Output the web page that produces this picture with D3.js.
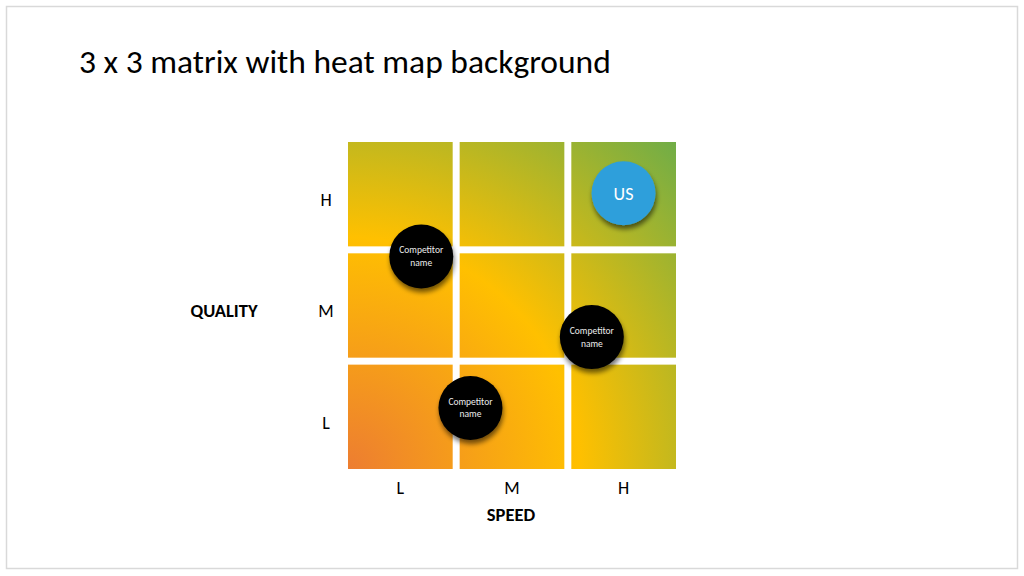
<!DOCTYPE html>
<html><head><meta charset="utf-8">
<script src="https://cdn.jsdelivr.net/npm/d3@7"></script>
<style>
html,body{margin:0;padding:0;background:#fff;}
svg{display:block;}
text{font-family:Carlito,Calibri,Lato,"Open Sans",sans-serif;}
</style></head>
<body>
<svg id="chart" width="1024" height="576"></svg>
<script>
const title = "3 x 3 matrix with heat map background";
const levels = ["L", "M", "H"];
const xAxisTitle = "SPEED";
const yAxisTitle = "QUALITY";
// positions on a continuous 0..3 scale (0 = low edge, 3 = high edge)
const pointNames = ["US", "Competitor name", "Competitor name", "Competitor name"];
const pointSpeed = [2.52, 0.67, 2.23, 1.12];
const pointQuality = [2.53, 1.95, 1.21, 0.56];
const pointIsUs = [true, false, false, false];
const heatStops = [0, 0.5, 1];
const heatColors = ["#ED7D31", "#FFC000", "#70AD47"];

(function () {
const svg = d3.select("#chart");
// slide border
svg.append("rect").attr("x", 6.5).attr("y", 6.5).attr("width", 1011).attr("height", 562)
  .attr("fill", "#fff").attr("stroke", "#D9D9D9").attr("stroke-width", 1.5);

// title
const t = svg.append("text").attr("x", 79).attr("y", 73)
  .attr("font-size", 32).attr("font-weight", 300).attr("fill", "#000").text(title);
const tl = t.node().getComputedTextLength();
if (tl > 0) t.attr("font-size", 32 * 532 / tl);

const mLeft = 348, mRight = 676, mTop = 142, mBottom = 469;
const x = d3.scaleBand().domain(levels).range([mLeft, mRight]).paddingInner(0.0625);
const y = d3.scaleBand().domain(levels).range([mBottom, mTop]).paddingInner(0.0625);
const xc = d3.scaleLinear().domain([0, 3]).range([mLeft, mRight]);
const yc = d3.scaleLinear().domain([0, 3]).range([mBottom, mTop]);

const defs = svg.append("defs");
const rg = defs.append("radialGradient").attr("id", "heat")
  .attr("gradientUnits", "userSpaceOnUse")
  .attr("cx", mLeft).attr("cy", mBottom).attr("fx", mLeft).attr("fy", mBottom)
  .attr("r", Math.hypot(mRight - mLeft, mBottom - mTop));
rg.selectAll("stop").data(heatStops).join("stop")
  .attr("offset", d => d).attr("stop-color", (d, i) => heatColors[i]);

const sh = defs.append("filter").attr("id", "shadow").attr("x", "-30%").attr("y", "-30%")
  .attr("width", "160%").attr("height", "170%");
sh.append("feGaussianBlur").attr("in", "SourceAlpha").attr("stdDeviation", 2.5);
sh.append("feOffset").attr("dx", 1).attr("dy", 4).attr("result", "ob");
sh.append("feComponentTransfer").append("feFuncA").attr("type", "linear").attr("slope", 0.55);
const mg = sh.append("feMerge");
mg.append("feMergeNode");
mg.append("feMergeNode").attr("in", "SourceGraphic");

const cells = [];
levels.forEach(q => levels.forEach(s => cells.push({s, q})));
svg.append("g").selectAll("rect").data(cells).join("rect")
  .attr("x", d => x(d.s)).attr("y", d => y(d.q))
  .attr("width", x.bandwidth()).attr("height", y.bandwidth())
  .attr("fill", "url(#heat)");

// axis tick labels
const font = "Carlito,Calibri,Lato,'Open Sans',sans-serif";
const xa = svg.append("g").attr("transform", `translate(0,${mBottom})`)
  .call(d3.axisBottom(x).tickSize(0).tickPadding(12));
xa.select(".domain").remove();
xa.selectAll("text").attr("font-size", 18).attr("fill", "#000").style("font-family", font);
const ya = svg.append("g").attr("transform", `translate(326,6)`)
  .call(d3.axisLeft(y).tickSize(0).tickPadding(0));
ya.select(".domain").remove();
ya.selectAll("text").attr("text-anchor", "middle").attr("font-size", 18).attr("fill", "#000")
  .style("font-family", font);

svg.append("text").attr("x", 511).attr("y", 521).attr("text-anchor", "middle")
  .attr("font-size", 18.5).attr("font-weight", 700).text(xAxisTitle);
svg.append("text").attr("x", 224).attr("y", 317).attr("text-anchor", "middle")
  .attr("font-size", 18.5).attr("font-weight", 700).text(yAxisTitle);

// points
const pts = pointNames.map((n, i) => ({n, s: pointSpeed[i], q: pointQuality[i], us: pointIsUs[i]}));
const g = svg.append("g").selectAll("g").data(pts).join("g")
  .attr("transform", d => `translate(${xc(d.s)},${yc(d.q)})`);
g.append("circle").attr("r", 32).attr("fill", d => d.us ? "#2D9FDB" : "#000")
  .attr("filter", "url(#shadow)");
g.each(function(d) {
  const sel = d3.select(this);
  if (d.us) {
    sel.append("text").attr("text-anchor", "middle").attr("dy", 6.5)
      .attr("font-size", 18).attr("fill", "#fff").text(d.n);
  } else {
    const words = d.n.split(" ");
    sel.append("text").attr("text-anchor", "middle").attr("y", -3)
      .attr("font-size", 9.5).attr("fill", "#EDEDED").text(words[0]);
    sel.append("text").attr("text-anchor", "middle").attr("y", 9.5)
      .attr("font-size", 9.5).attr("fill", "#EDEDED").text(words.slice(1).join(" "));
  }
});
})();
</script>
</body></html>
